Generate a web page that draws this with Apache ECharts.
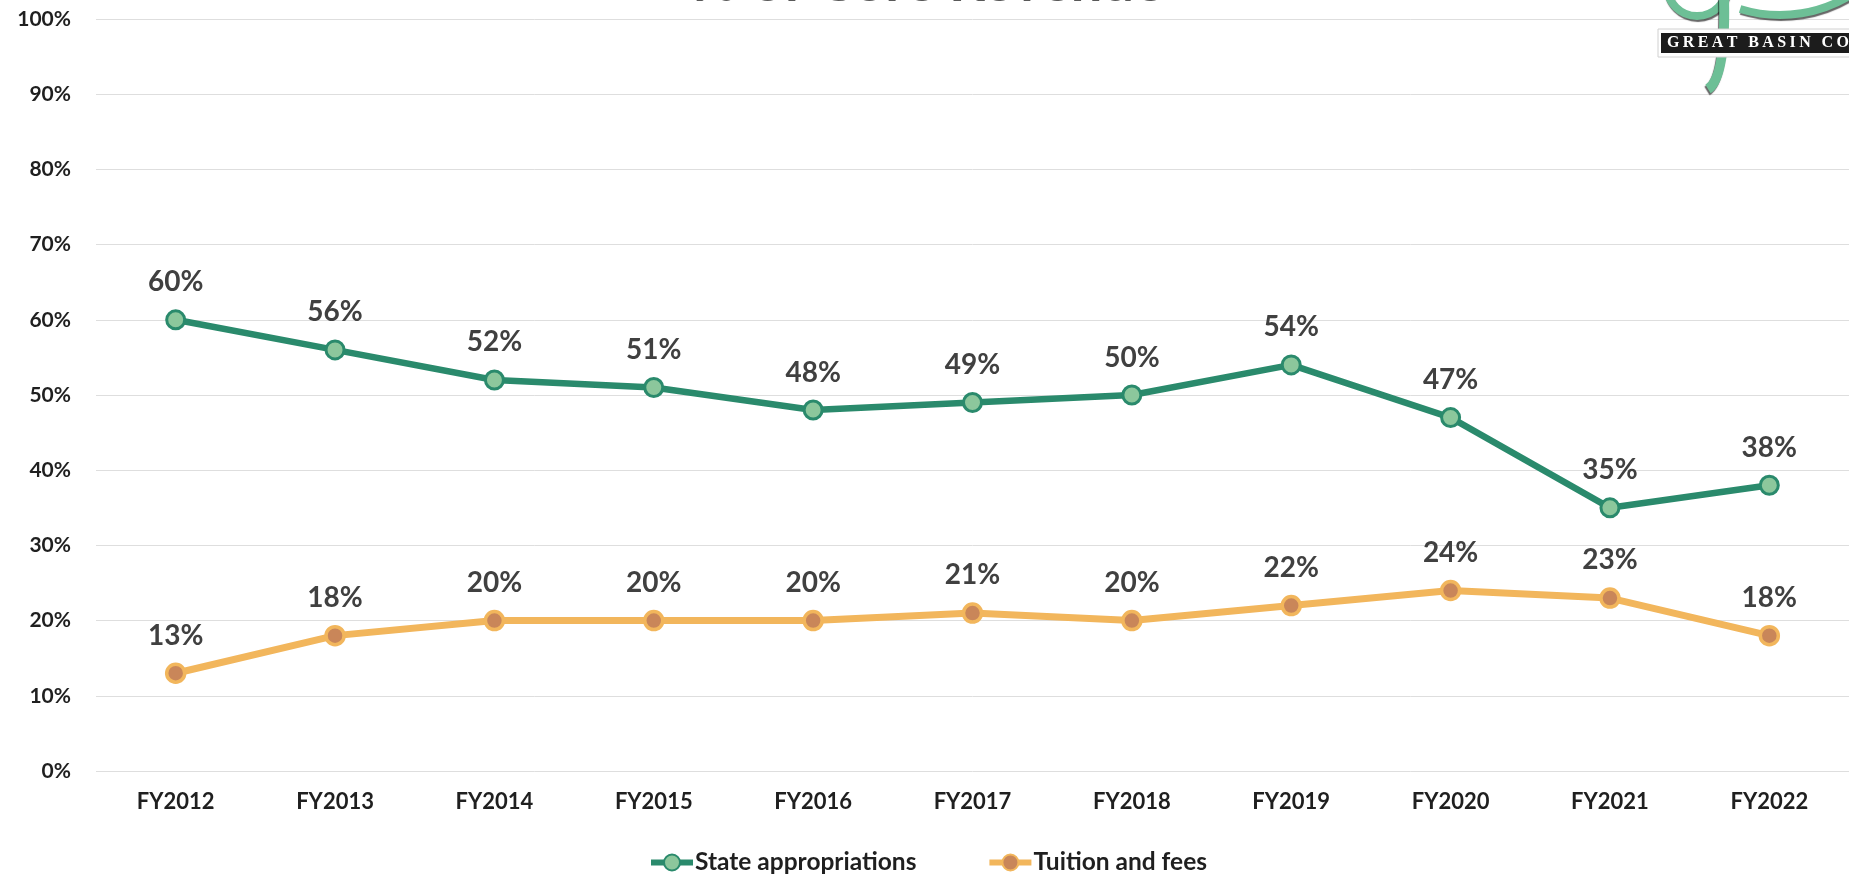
<!DOCTYPE html>
<html>
<head>
<meta charset="utf-8">
<script src="https://cdn.jsdelivr.net/npm/echarts@6/dist/echarts.min.js"></script>
<style>
html,body{margin:0;padding:0;background:#fff;}
#chart{width:1849px;height:879px;}
</style>
</head>
<body>
<div id="chart"></div>
<script>
const categories = ['FY2012','FY2013','FY2014','FY2015','FY2016','FY2017','FY2018','FY2019','FY2020','FY2021','FY2022'];
const stateAppropriations = [60,56,52,51,48,49,50,54,47,35,38];
const tuitionAndFees = [13,18,20,20,20,21,20,22,24,23,18];
const seriesNames = ['State appropriations','Tuition and fees'];
const titleText = '% of Core Revenue';
const logoText = 'GREAT BASIN CO';

const FONT = 'Lato, "Open Sans", sans-serif';
const SERIF = '"Liberation Serif", "DejaVu Serif", serif';
const GREEN = '#2a8a6c', GREEN_FILL = '#8cc79c';
const ORANGE = '#f2b65c', ORANGE_FILL = '#c98659';
const LOGO_GREEN = '#6dbf96';

// letter-spaced logo text, one glyph per graphic element
const measureCtx = document.createElement('canvas').getContext('2d');
measureCtx.font = 'bold 16px ' + SERIF;
const logoLetters = [];
let lx = 1667;
for (const ch of logoText) {
  logoLetters.push({type: 'text', z: 13, x: lx, y: 43, style: {text: ch, fontFamily: SERIF, fontSize: 16, fontWeight: 'bold', fill: '#ffffff', align: 'left', verticalAlign: 'middle'}});
  lx += measureCtx.measureText(ch).width + 3.4;
}
const logoShadow = {shadowColor: 'rgba(0,0,0,0.6)', shadowOffsetX: 1, shadowOffsetY: 2, shadowBlur: 1};

const chart = echarts.init(document.getElementById('chart'), null, {renderer:'canvas'});
const labelCfg = {
  show: true, position: 'top', distance: 13,
  formatter: p => p.value + '%',
  fontFamily: FONT, fontSize: 28, fontWeight: 'bold', color: '#404040'
};
chart.setOption({
  animation: false,
  backgroundColor: '#ffffff',
  grid: {left: 96, right: 0, top: 19, bottom: 108, containLabel: false},
  xAxis: {
    type: 'category', data: categories, boundaryGap: true,
    axisLine: {show: false}, axisTick: {show: false},
    axisLabel: {margin: 20, fontFamily: FONT, fontSize: 22, fontWeight: 'bold', color: '#1f1f1f'}
  },
  yAxis: {
    type: 'value', min: 0, max: 100, interval: 10,
    axisLine: {show: false}, axisTick: {show: false},
    axisLabel: {margin: 25, formatter: '{value}%', fontFamily: FONT, fontSize: 21, fontWeight: 'bold', color: '#1f1f1f'},
    splitLine: {lineStyle: {color: '#dedede', width: 1}}
  },
  legend: {
    left: 643, top: 845, itemWidth: 42, itemHeight: 20, itemGap: 70,
    textStyle: {fontFamily: FONT, fontSize: 24.5, fontWeight: 'bold', color: '#1f1f1f', padding: [0,0,0,-3]},
    lineStyle: {width: 6},
    data: seriesNames
  },
  series: [
    {
      name: seriesNames[0], type: 'line', data: stateAppropriations,
      symbol: 'circle', symbolSize: 18,
      lineStyle: {color: GREEN, width: 6.5},
      itemStyle: {color: GREEN_FILL, borderColor: GREEN, borderWidth: 3},
      label: labelCfg, z: 3
    },
    {
      name: seriesNames[1], type: 'line', data: tuitionAndFees,
      symbol: 'circle', symbolSize: 18,
      lineStyle: {color: ORANGE, width: 7},
      itemStyle: {color: ORANGE_FILL, borderColor: ORANGE, borderWidth: 3.5},
      label: labelCfg, z: 2
    }
  ],
  graphic: [
    {type: 'text', x: 928, y: -17, z: 10, style: {text: titleText, fontFamily: FONT, fontSize: 56, fontWeight: 'bold', fill: '#595959', align: 'center', verticalAlign: 'middle'}},
    {type: 'arc', z: 10, shape: {cx: 1697, cy: -14, r: 30, startAngle: 0, endAngle: Math.PI}, style: Object.assign({stroke: LOGO_GREEN, lineWidth: 8, fill: null}, logoShadow)},
    {type: 'arc', z: 10, shape: {cx: 1780, cy: -120, r: 135, startAngle: 0.95, endAngle: 1.871}, style: Object.assign({stroke: LOGO_GREEN, lineWidth: 8, fill: null}, logoShadow)},
    {type: 'bezierCurve', z: 10, shape: {x1: 1724, y1: -2, x2: 1708, y2: 89, cpx1: 1726, cpy1: 78}, style: Object.assign({stroke: LOGO_GREEN, lineWidth: 10, fill: null}, logoShadow, {shadowOffsetX: -1})},
    {type: 'rect', z: 11, shape: {x: 1658, y: 29, width: 200, height: 28}, style: {fill: '#ffffff', stroke: '#d0d0d0', lineWidth: 1}},
    {type: 'rect', z: 12, shape: {x: 1661, y: 33, width: 200, height: 20}, style: {fill: '#1c1c1c'}}
  ].concat(logoLetters)
});
</script>
</body>
</html>
